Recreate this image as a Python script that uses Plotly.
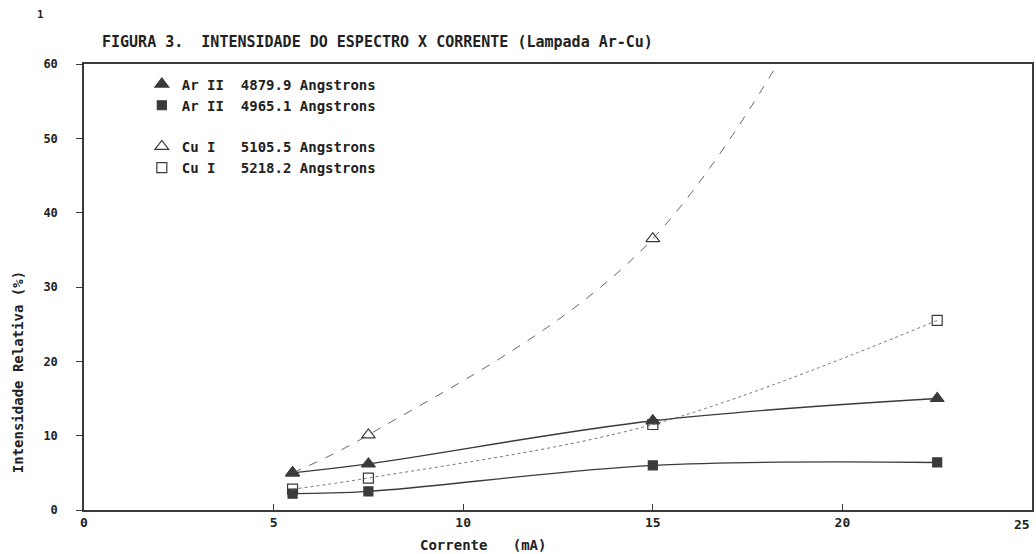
import plotly.graph_objects as go

corrente = [5.5, 7.5, 15.0, 22.5]
ar_4879 = [5.0, 6.2, 12.0, 15.0]
ar_4965 = [2.2, 2.5, 6.0, 6.4]
cu_5105 = [5.0, 10.1, 36.5, 100.0]
cu_5218 = [2.8, 4.3, 11.5, 25.5]

names = ["Ar II  4879.9 Angstrons", "Ar II  4965.1 Angstrons",
         "Cu I   5105.5 Angstrons", "Cu I   5218.2 Angstrons"]
x_ticks = [0, 5, 10, 15, 20, 25]
y_ticks = [0, 10, 20, 30, 40, 50, 60]

FONT = "DejaVu Sans Mono"
INK = "#3a3a3a"

series = [
    (ar_4879, names[0], "triangle-up", dict(color=INK, width=1.4, dash="solid"), "ar", 12),
    (ar_4965, names[1], "square", dict(color=INK, width=1.4, dash="solid"), "ar", 9),
    (cu_5105, names[2], "triangle-up-open", dict(color="#555555", width=0.9, dash="dash"), "cu", 12),
    (cu_5218, names[3], "square-open", dict(color="#666666", width=0.9, dash="dot"), "cu", 10),
]

fig = go.Figure()
for vals, name, sym, line, grp, msize in series:
    fig.add_trace(go.Scatter(
        x=corrente, y=vals, mode="lines", line=dict(shape="spline", **line),
        showlegend=False, hoverinfo="skip", legendgroup=grp))
    fig.add_trace(go.Scatter(
        x=corrente, y=vals, mode="markers", name=name, legendgroup=grp,
        marker=dict(symbol=sym, size=msize, color=INK,
                    line=dict(color=INK, width=1.2))))

# last x tick label is drawn right-aligned at the axis end (as in the reference)
x_ticktext = [str(v) for v in x_ticks[:-1]] + [""]

fig.update_layout(
    width=1036, height=554,
    margin=dict(l=84, r=4, t=64, b=44, autoexpand=False),
    paper_bgcolor="white", plot_bgcolor="white",
    font=dict(family=FONT, color="#222222", size=13),
    showlegend=True,
    legend=dict(x=0.061, y=0.99, xanchor="left", yanchor="top",
                bgcolor="rgba(0,0,0,0)", tracegroupgap=20,
                font=dict(family=FONT, size=14, color="#222222", weight="bold"),
                itemwidth=30),
    xaxis=dict(range=[0, 25], tickvals=x_ticks, ticktext=x_ticktext,
               showgrid=False, zeroline=False, showline=True, linecolor=INK, linewidth=1.5,
               mirror=True, ticks="inside", ticklen=6, tickcolor=INK,
               tickfont=dict(family=FONT, size=13, weight="bold")),
    yaxis=dict(range=[0, 60], tickvals=y_ticks, ticktext=[str(v) for v in y_ticks],
               showgrid=False, zeroline=False, showline=True, linecolor=INK, linewidth=1.5,
               mirror=True, ticks="outside", ticklen=6, tickcolor=INK,
               ticklabelstandoff=16,
               tickfont=dict(family=FONT, size=12, weight="bold")),
    annotations=[
        dict(text="FIGURA 3.  INTENSIDADE DO ESPECTRO X CORRENTE (Lampada Ar-Cu)",
             xref="paper", yref="paper", x=0.017, y=1.049, xanchor="left", yanchor="middle",
             showarrow=False, font=dict(family=FONT, size=15, weight="bold")),
        dict(text="Corrente   (mA)", xref="paper", yref="paper", x=0.421, y=-0.078,
             xanchor="center", yanchor="middle", showarrow=False,
             font=dict(family=FONT, size=14, weight="bold")),
        dict(text="Intensidade Relativa (%)", xref="paper", yref="paper",
             x=-0.0696, y=0.309, xanchor="center", yanchor="middle", textangle=-90,
             showarrow=False, font=dict(family=FONT, size=14, weight="bold")),
        dict(text=str(x_ticks[-1]), xref="x", yref="paper", x=x_ticks[-1], y=-0.012,
             xanchor="right", yanchor="top", showarrow=False,
             font=dict(family=FONT, size=13, weight="bold")),
        dict(text="1", xref="paper", yref="paper", x=-0.046, y=1.11,
             xanchor="center", yanchor="middle", showarrow=False,
             font=dict(family=FONT, size=11, weight="bold")),
    ],
)

fig.write_html("out.html", config={"displayModeBar": False},
               post_script="document.body.style.margin='0';")
